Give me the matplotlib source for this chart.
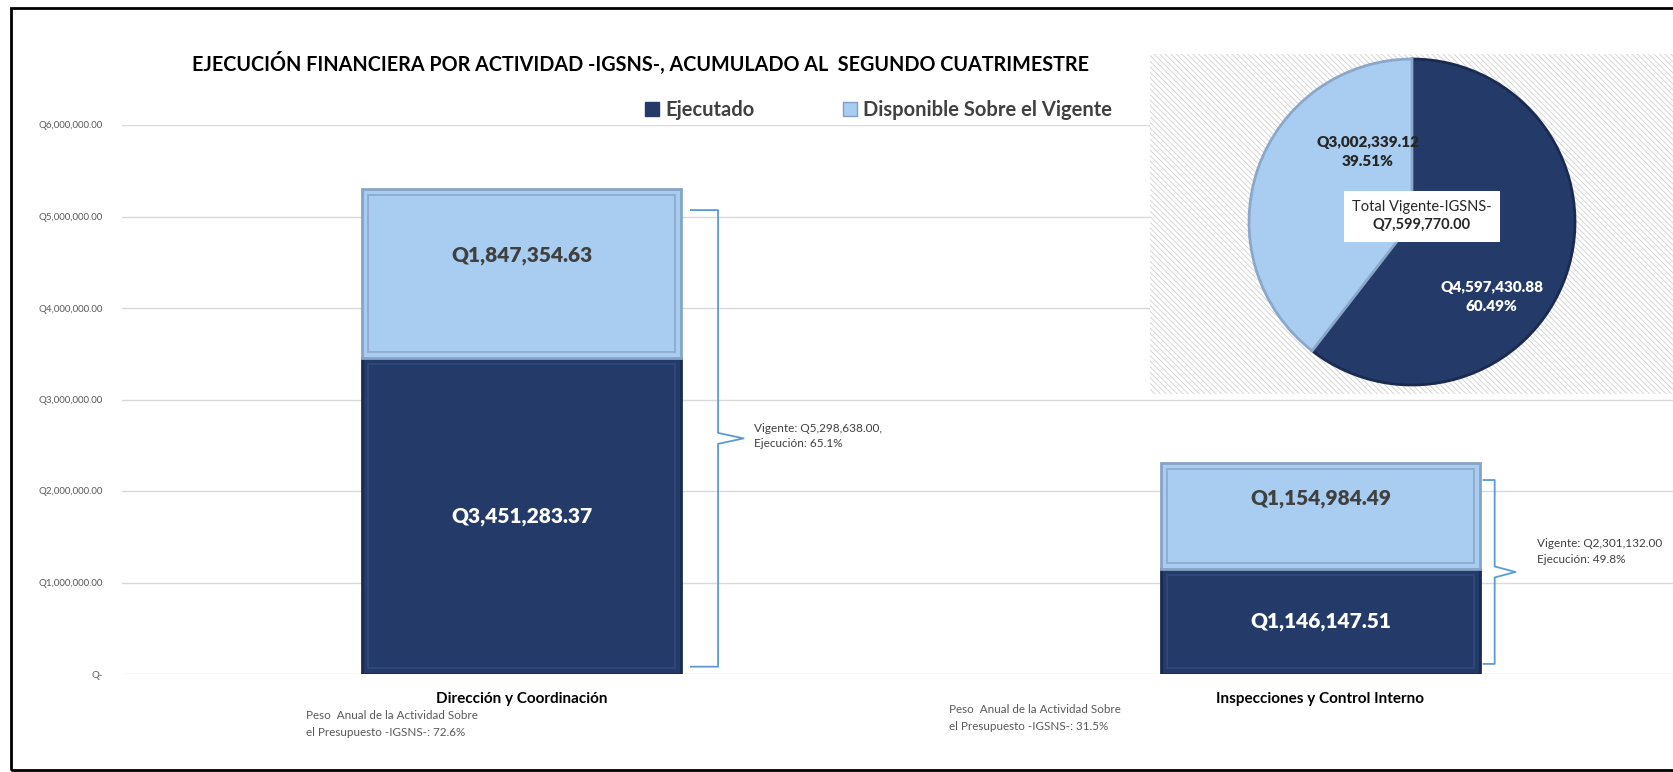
import matplotlib
matplotlib.use("Agg")
import matplotlib.pyplot as plt
from matplotlib.patches import Rectangle, Patch
from matplotlib.ticker import FuncFormatter
import numpy as np

plt.rcParams["font.family"] = ["Lato", "DejaVu Sans"]

# Data
categories = ["Dirección y Coordinación", "Inspecciones y Control Interno"]
ejecutado = [3451283.37, 1146147.51]
disponible = [1847354.63, 1154984.49]
vigente = [5298638.00, 2301132.00]
ejecucion_pct = [65.1, 49.8]
peso_pct = [72.6, 31.5]
pie_values = [4597430.88, 3002339.12]  # Ejecutado, Disponible
pie_pct = [60.49, 39.51]
total_vigente = 7599770.00
yticks = [0, 1e6, 2e6, 3e6, 4e6, 5e6, 6e6]

# Layout helpers (brace spans and annotation heights)
brace_span = [(0.08e6, 5.07e6), (0.11e6, 2.12e6)]
brace_x = [(0.012, 0.046, 0.078), (0.004, 0.018, 0.044)]
vig_text_x = [0.291, 0.271]
vig_text_y = [2.6e6, 1.34e6]

DARK = "#243a69"
LIGHT = "#a9cdf1"
GRID = "#d9d9d9"
BRACE = "#5b9bd5"

W, H = 1673, 772
fig = plt.figure(figsize=(W / 100, H / 100), dpi=100)

# Main bar axes (extends past the right edge, like the cropped original)
ax = fig.add_axes([122 / W, 1 - 674 / H, 1598 / W, (674 - 125) / H])
x = np.arange(len(categories))
bw = 0.4
ax.bar(x, ejecutado, bw, color=DARK, edgecolor="#1a2b4f", linewidth=2, zorder=3)
ax.bar(x, disponible, bw, bottom=ejecutado, color=LIGHT, edgecolor="#87a3c6",
       linewidth=2, zorder=3)
# inner bevel outlines
ix, iy = 0.008, 0.065e6
ax.bar(x, np.array(ejecutado) - 2 * iy, bw - 2 * ix, bottom=iy, fill=False,
       edgecolor="#2f4a7d", linewidth=1.2, zorder=4)
ax.bar(x, np.array(disponible) - 2 * iy, bw - 2 * ix,
       bottom=np.array(ejecutado) + iy, fill=False, edgecolor="#8ba8cb",
       linewidth=1.2, zorder=4)

for i in range(len(categories)):
    ax.text(x[i], ejecutado[i] / 2, f"Q{ejecutado[i]:,.2f}", ha="center",
            va="center", color="white", fontsize=15, fontweight="heavy", zorder=5)
    ax.annotate(f"Q{disponible[i]:,.2f}", (x[i], ejecutado[i] + disponible[i] / 2),
                xytext=(0, 13), textcoords="offset points", ha="center",
                va="center", color="#404040", fontsize=15, fontweight="heavy",
                zorder=5)
    # curly bracket
    lo, hi = brace_span[i]
    xa, xv, xt = (x[i] + bw / 2 + d for d in brace_x[i])
    mid = (lo + hi) / 2
    d = 0.06e6
    ax.plot([xa, xv, xv, xt, xv, xv, xa],
            [hi, hi, mid + d, mid, mid - d, lo, lo],
            color=BRACE, lw=1.3, zorder=4, solid_joinstyle="round")
    ax.text(x[i] + vig_text_x[i], vig_text_y[i],
            f"Vigente: Q{vigente[i]:,.2f}{',' if i == 0 else ''}\n"
            f"Ejecución: {ejecucion_pct[i]}%",
            ha="left", va="center", fontsize=8.5, color="#404040",
            linespacing=1.5)

ax.set_xlim(-0.5, 1.5)
ax.set_ylim(0, 6e6)
ax.set_yticks(yticks)
ax.yaxis.set_major_formatter(
    FuncFormatter(lambda v, p: "Q-" if v == 0 else f"Q{v:,.2f}"))
ax.set_xticks(x)
ax.set_xticklabels(categories, fontsize=11, fontweight="bold")
ax.tick_params(axis="y", length=0, pad=14, labelsize=7, labelcolor="#595959")
ax.tick_params(axis="x", length=0, pad=13)
ax.grid(axis="y", color=GRID, linewidth=1, zorder=0)
for s in ax.spines.values():
    s.set_visible(False)

# Title and legend
fig.text(640 / W, 1 - 63 / H,
         "EJECUCIÓN FINANCIERA POR ACTIVIDAD -IGSNS-, ACUMULADO AL  SEGUNDO CUATRIMESTRE",
         ha="center", va="center", fontsize=14.2, fontweight="bold", color="black")
handles = [Patch(facecolor=DARK, edgecolor=DARK, label="Ejecutado"),
           Patch(facecolor=LIGHT, edgecolor="#7f9fc6", label="Disponible Sobre el Vigente")]
leg = fig.legend(handles=handles, ncol=2, loc="center left",
                 bbox_to_anchor=(637 / W, 1 - 110 / H), frameon=False,
                 handlelength=0.7, handleheight=0.7, handletextpad=0.3,
                 columnspacing=4.4, borderaxespad=0, prop=dict(size=14.5))
for t in leg.get_texts():
    t.set_fontweight("bold")
    t.set_color("#404040")

# Peso annotations
peso_pos = [(306, 724), (949, 718)]
for (px, py), p in zip(peso_pos, peso_pct):
    fig.text(px / W, 1 - py / H,
             f"Peso  Anual de la Actividad Sobre\nel Presupuesto -IGSNS-: {p}%",
             ha="left", va="center", fontsize=8.4, color="#595959", linespacing=1.6)

# Pie background (hatched)
bg = fig.add_axes([1150 / W, 1 - 394 / H, (W - 1150) / W, (394 - 54) / H])
bg.set_axis_off()
plt.rcParams["hatch.linewidth"] = 0.6
bg.add_patch(Rectangle((0, 0), 1, 1, transform=bg.transAxes, facecolor="white",
                       edgecolor="#d0d0d0", hatch="\\\\\\\\\\\\", linewidth=0))

# Pie chart
cx, cy, r = 1412, 222, 163
pax = fig.add_axes([(cx - r * 1.04) / W, 1 - (cy + r * 1.04) / H,
                    2 * r * 1.04 / W, 2 * r * 1.04 / H])
wedges, _ = pax.pie(pie_values, colors=[DARK, LIGHT], startangle=90,
                    counterclock=False, radius=1,
                    wedgeprops=dict(linewidth=2))
wedges[0].set_edgecolor("#1a2b4f")
wedges[1].set_edgecolor("#8ba8cb")
pax.set_xlim(-1.04, 1.04)
pax.set_ylim(-1.04, 1.04)
pax.set_aspect("equal")
pax.text(-0.27, 0.43, f"Q{pie_values[1]:,.2f}\n{pie_pct[1]}%", ha="center",
         va="center", fontsize=11, fontweight="heavy", color="#262626",
         linespacing=1.5)
pax.text(0.49, -0.46, f"Q{pie_values[0]:,.2f}\n{pie_pct[0]}%", ha="center",
         va="center", fontsize=11, fontweight="heavy", color="white",
         linespacing=1.5)
pax.add_patch(Rectangle((-0.42, -0.12), 0.96, 0.31, facecolor="white",
                        edgecolor="none", zorder=5))
pax.text(0.06, 0.09, "Total Vigente-IGSNS-", ha="center", va="center",
         fontsize=10.5, color="#262626", zorder=6)
pax.text(0.06, -0.02, f"Q{total_vigente:,.2f}", ha="center", va="center",
         fontsize=10.5, fontweight="bold", color="#262626", zorder=6)

# Outer frame
fig.add_artist(Rectangle((11 / W, 1 - 770 / H), 1.5, (770 - 8) / H,
                         transform=fig.transFigure, fill=False,
                         edgecolor="black", linewidth=2))

fig.savefig("out.png", dpi=100)
